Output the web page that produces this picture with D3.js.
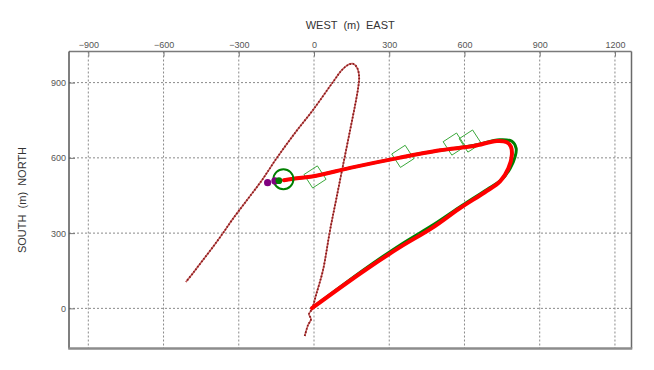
<!DOCTYPE html>
<html>
<head>
<meta charset="utf-8">
<script src="https://cdn.jsdelivr.net/npm/d3@7"></script>
<style>
  html, body { margin: 0; padding: 0; background: #ffffff; }
  svg { display: block; }
  text { font-family: "Liberation Sans", Arial, sans-serif; }
</style>
</head>
<body>
<svg id="chart" width="654" height="370"></svg>
<script>
// ---- data (metres) ----
const xTicks = [-900, -600, -300, 0, 300, 600, 900, 1200];
const yTicks = [0, 300, 600, 900];

// brown dotted track
const trackBrown = [
  [-37, -110], [-24, -67], [-12, -43], [-20, -23], [-8, -3], [8, 53], [36, 153],
  [64, 312], [88, 432], [116, 572], [144, 711], [164, 811], [176, 879], [180, 923],
  [172, 959], [156, 975], [136, 971], [112, 951], [76, 903], [-4, 791], [-76, 699],
  [-148, 600], [-207, 512], [-267, 432], [-327, 352], [-363, 300], [-403, 245],
  [-445, 190], [-480, 144], [-511, 105]
];

// green track
const trackGreen = [
  [-120, 511], [-88, 516], [4, 528], [144, 560], [343, 601], [503, 630], [636, 649],
  [740, 672], [789, 666], [806, 638], [802, 605], [782, 558], [749, 514], [690, 474],
  [590, 410], [480, 336], [350, 257], [200, 155], [-9, 0]
];

// red track
const trackRed = [
  [-120, 511], [-88, 516], [4, 528], [144, 560], [343, 601], [503, 630], [636, 647],
  [729, 667], [769, 662], [785, 645], [789, 612], [775, 558], [742, 506], [680, 462],
  [580, 398], [470, 320], [340, 242], [200, 150], [-8, 1]
];

// diamond markers
const diamonds = [[4, 524], [354, 606], [559, 655], [623, 667]];

// ring and dots
const ring = [[-122, 515]];
const purpleDots = [[-185, 501], [-156, 508]];
const greenDots = [[-140, 509]];

// ---- layout ----
const svg = d3.select("#chart");
const L = 69, R = 631.5, T = 51.5, B = 348.5;
const x = d3.scaleLinear().domain([-977, 1266]).range([L, R]);
const y = d3.scaleLinear().domain([-160, 1024]).range([B, T]);

// grid
const grid = svg.append("g");
grid.selectAll("line.gx").data(xTicks).join("line")
  .attr("x1", d => x(d)).attr("x2", d => x(d))
  .attr("y1", T).attr("y2", B)
  .attr("stroke", "#8a8a8a").attr("stroke-width", 1).attr("stroke-dasharray", "2,2");
grid.selectAll("line.gy").data(yTicks).join("line")
  .attr("x1", L).attr("x2", R)
  .attr("y1", d => y(d)).attr("y2", d => y(d))
  .attr("stroke", "#8a8a8a").attr("stroke-width", 1).attr("stroke-dasharray", "2,2");

// axes
const axTop = svg.append("g").attr("transform", `translate(0,${T})`)
  .call(d3.axisTop(x).tickValues(xTicks).tickSize(-5).tickPadding(4).tickFormat(d3.format("d")));
const axLeft = svg.append("g").attr("transform", `translate(${L},0)`)
  .call(d3.axisLeft(y).tickValues(yTicks).tickSize(-6).tickPadding(3).tickFormat(d3.format("d")));
[axTop, axLeft].forEach(a => {
  a.select(".domain").remove();
  a.selectAll(".tick line").attr("stroke", "#777");
  a.selectAll(".tick text").attr("fill", "#555").style("font-size", "9px")
    .style("font-family", '"Liberation Sans", Arial, sans-serif');
});

// frame
svg.append("line").attr("x1", L).attr("x2", R).attr("y1", T).attr("y2", T)
  .attr("stroke", "#7a7a7a").attr("stroke-width", 1.5);
svg.append("line").attr("x1", R).attr("x2", R).attr("y1", T).attr("y2", B)
  .attr("stroke", "#6a6a6a").attr("stroke-width", 1.5);
svg.append("line").attr("x1", L).attr("x2", L).attr("y1", T).attr("y2", B)
  .attr("stroke", "#555").attr("stroke-width", 1.5);
svg.append("line").attr("x1", L - 0.75).attr("x2", R + 0.75).attr("y1", B).attr("y2", B)
  .attr("stroke", "#8c8c8c").attr("stroke-width", 2.5);

// axis titles
svg.append("text").attr("x", (L + R) / 2).attr("y", 29)
  .attr("text-anchor", "middle").attr("fill", "#333").style("font-size", "11px")
  .attr("xml:space", "preserve").text("WEST  (m)  EAST");
svg.append("text").attr("transform", `translate(26,${(T + B) / 2}) rotate(-90)`)
  .attr("text-anchor", "middle").attr("fill", "#333").style("font-size", "11px")
  .attr("xml:space", "preserve").text("SOUTH  (m)  NORTH");

const line = d3.line().x(d => x(d[0])).y(d => y(d[1])).curve(d3.curveCatmullRom.alpha(0.5));

const plot = svg.append("g");

// brown dotted track
plot.append("path").attr("d", line(trackBrown)).attr("fill", "none")
  .attr("stroke", "#c46060").attr("stroke-width", 1.6);
plot.append("path").attr("d", line(trackBrown)).attr("fill", "none")
  .attr("stroke", "#8b1a1a").attr("stroke-width", 1.8).attr("stroke-dasharray", "1.5,1.8");

// diamonds
plot.selectAll("rect.dm").data(diamonds).join("rect")
  .attr("x", -8).attr("y", -8).attr("width", 16).attr("height", 16)
  .attr("transform", d => `translate(${x(d[0])},${y(d[1])}) rotate(-33)`)
  .attr("fill", "none").attr("stroke", "#3aa83a").attr("stroke-width", 0.9);

// green and red tracks
plot.append("path").attr("d", line(trackGreen)).attr("fill", "none")
  .attr("stroke", "#008000").attr("stroke-width", 3);
plot.append("path").attr("d", line(trackRed)).attr("fill", "none")
  .attr("stroke", "#ff0000").attr("stroke-width", 4).attr("stroke-linecap", "round");

// ring & dots
plot.selectAll("circle.ring").data(ring).join("circle")
  .attr("cx", d => x(d[0])).attr("cy", d => y(d[1])).attr("r", 10)
  .attr("fill", "none").attr("stroke", "#008000").attr("stroke-width", 2);
plot.selectAll("circle.pd").data(purpleDots).join("circle")
  .attr("cx", d => x(d[0])).attr("cy", d => y(d[1])).attr("r", 3.6)
  .attr("fill", "#800080");
plot.selectAll("circle.gd").data(greenDots).join("circle")
  .attr("cx", d => x(d[0])).attr("cy", d => y(d[1])).attr("r", 3.4)
  .attr("fill", "#008000");
</script>
</body>
</html>
